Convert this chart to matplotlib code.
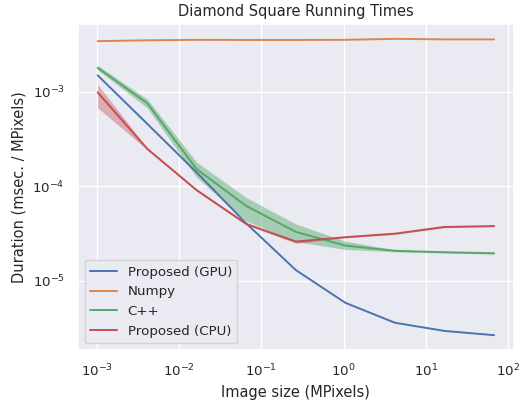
import matplotlib
matplotlib.use("Agg")
import matplotlib.pyplot as plt
import seaborn as sns

# Image sizes (MPixels): 32^2 ... 8192^2 pixels
image_size = [0.001024, 0.004096, 0.016384, 0.065536, 0.262144,
              1.048576, 4.194304, 16.777216, 67.108864]

# Duration per MPixel (msec.)
gpu = [1.5e-3, 4.6e-4, 1.4e-4, 4.05e-5, 1.3e-5, 5.85e-6, 3.6e-6, 2.95e-6, 2.66e-6]
numpy_t = [3.45e-3, 3.52e-3, 3.56e-3, 3.55e-3, 3.55e-3, 3.56e-3, 3.65e-3, 3.6e-3, 3.6e-3]
cpp = [1.8e-3, 7.6e-4, 1.52e-4, 6.2e-5, 3.3e-5, 2.36e-5, 2.08e-5, 2.01e-5, 1.96e-5]
cpp_lo = [1.71e-3, 6.8e-4, 1.24e-4, 4.3e-5, 2.6e-5, 2.15e-5, 2.03e-5, 1.97e-5, 1.92e-5]
cpp_hi = [1.91e-3, 8.4e-4, 1.8e-4, 7.6e-5, 4.0e-5, 2.63e-5, 2.13e-5, 2.05e-5, 2.0e-5]
cpu = [9.9e-4, 2.5e-4, 9.1e-5, 4.0e-5, 2.6e-5, 2.9e-5, 3.16e-5, 3.72e-5, 3.8e-5]
cpu_lo = [6.8e-4, 2.45e-4, 8.9e-5, 3.9e-5, 2.5e-5, 2.85e-5, 3.1e-5, 3.65e-5, 3.75e-5]
cpu_hi = [1.2e-3, 2.55e-4, 9.3e-5, 4.1e-5, 2.7e-5, 2.95e-5, 3.22e-5, 3.8e-5, 3.86e-5]

sns.set_theme(style="darkgrid", font_scale=0.88)
pal = sns.color_palette()

fig, ax = plt.subplots(figsize=(5.26, 4.0), dpi=100)
fig.subplots_adjust(left=0.148, right=0.977, top=0.94, bottom=0.125)

lw = 1.4
ax.plot(image_size, gpu, color=pal[0], lw=lw, label="Proposed (GPU)")
ax.plot(image_size, numpy_t, color=pal[1], lw=lw, label="Numpy")
ax.plot(image_size, cpp, color=pal[2], lw=lw, label="C++")
ax.fill_between(image_size, cpp_lo, cpp_hi, color=pal[2], alpha=0.45, lw=0)
ax.plot(image_size, cpu, color=pal[3], lw=lw, label="Proposed (CPU)")
ax.fill_between(image_size, cpu_lo, cpu_hi, color=pal[3], alpha=0.4, lw=0)

ax.set_xscale("log")
ax.set_yscale("log")
ax.set_xlabel("Image size (MPixels)")
ax.set_ylabel("Duration (msec. / MPixels)")
ax.set_title("Diamond Square Running Times")
ax.legend(loc="lower left")

plt.savefig("out.png", dpi=100)
plt.close()
